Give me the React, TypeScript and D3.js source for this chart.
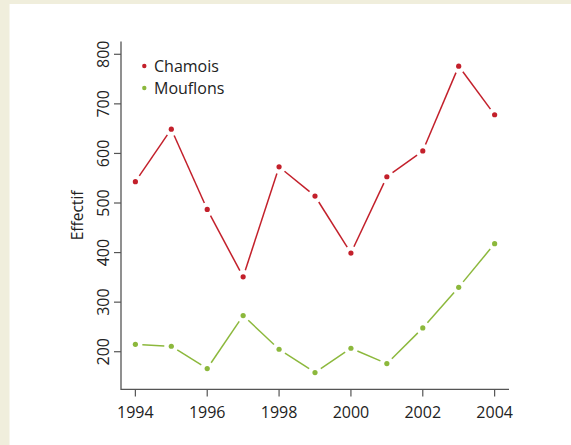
import React from "react";
import * as d3 from "d3";

const years = [1994, 1995, 1996, 1997, 1998, 1999, 2000, 2001, 2002, 2003, 2004];
const chamois = [543, 649, 487, 351, 573, 514, 399, 553, 605, 776, 678];
const mouflons = [215, 211, 166, 273, 205, 158, 207, 176, 248, 330, 418];
const seriesNames = ["Chamois", "Mouflons"];
const seriesColors = ["#c3202b", "#8cb83c"];
const xTicks = [1994, 1996, 1998, 2000, 2002, 2004];
const yTicks = [200, 300, 400, 500, 600, 700, 800];
const yLabel = "Effectif";

const W = 571;
const H = 445;
const left = 121;
const right = 509;
const top = 41.4;
const bottom = 389.4;
const font = "'Open Sans', sans-serif";

export default function App() {
  const x = d3.scaleLinear().domain([1993.6, 2004.4]).range([left, right]);
  const y = d3.scaleLinear().domain([124, 826]).range([bottom, top]);
  const gap = 7;

  const renderSeries = (vals: number[], color: string, key: string) => {
    const pts = vals.map((v, i) => [x(years[i]), y(v)] as [number, number]);
    const segs: JSX.Element[] = [];
    for (let i = 0; i < pts.length - 1; i++) {
      const [x1, y1] = pts[i];
      const [x2, y2] = pts[i + 1];
      const dx = x2 - x1, dy = y2 - y1;
      const len = Math.hypot(dx, dy);
      if (len <= 2 * gap) continue;
      const ux = dx / len, uy = dy / len;
      segs.push(
        <line key={key + "s" + i} x1={x1 + ux * gap} y1={y1 + uy * gap} x2={x2 - ux * gap} y2={y2 - uy * gap}
          stroke={color} strokeWidth={1.5} />
      );
    }
    return (
      <g key={key}>
        {segs}
        {pts.map((p, i) => (
          <circle key={key + "p" + i} cx={p[0]} cy={p[1]} r={2.6} fill={color} />
        ))}
      </g>
    );
  };

  return (
    <svg width={W} height={H} style={{ position: "absolute", left: 0, top: 0 }}>
      <rect x={0} y={0} width={W} height={H} fill="#ffffff" />
      <rect x={0} y={0} width={W} height={4} fill="#f0eedc" />
      <rect x={0} y={0} width={9.5} height={H} fill="#f0eedc" />
      {/* axes (L box) */}
      <path d={`M${left},${top} V${bottom} H${right}`} fill="none" stroke="#555" strokeWidth={1.3} />
      {xTicks.map((t) => (
        <g key={"xt" + t}>
          <line x1={x(t)} x2={x(t)} y1={bottom} y2={bottom + 7} stroke="#555" strokeWidth={1.2} />
          <text x={x(t)} y={418} textAnchor="middle" fontFamily={font} fontSize={16} fill="#222">{t}</text>
        </g>
      ))}
      {yTicks.map((t) => (
        <g key={"yt" + t}>
          <line x1={left - 7} x2={left} y1={y(t)} y2={y(t)} stroke="#555" strokeWidth={1.2} />
          <text transform={`translate(108.5,${y(t)}) rotate(-90)`} textAnchor="middle" fontFamily={font} fontSize={16} fill="#222">{t}</text>
        </g>
      ))}
      <text transform={`translate(83,${(top + bottom) / 2}) rotate(-90)`} textAnchor="middle" fontFamily={font} fontSize={15.5} fill="#222">{yLabel}</text>
      {renderSeries(chamois, seriesColors[0], "c")}
      {renderSeries(mouflons, seriesColors[1], "m")}
      {seriesNames.map((n, i) => (
        <g key={"lg" + n}>
          <circle cx={144.3} cy={66 + i * 22} r={2.2} fill={seriesColors[i]} />
          <text x={154} y={66 + i * 22} dy="0.35em" fontFamily={font} fontSize={16} fill="#222">{n}</text>
        </g>
      ))}
    </svg>
  );
}
